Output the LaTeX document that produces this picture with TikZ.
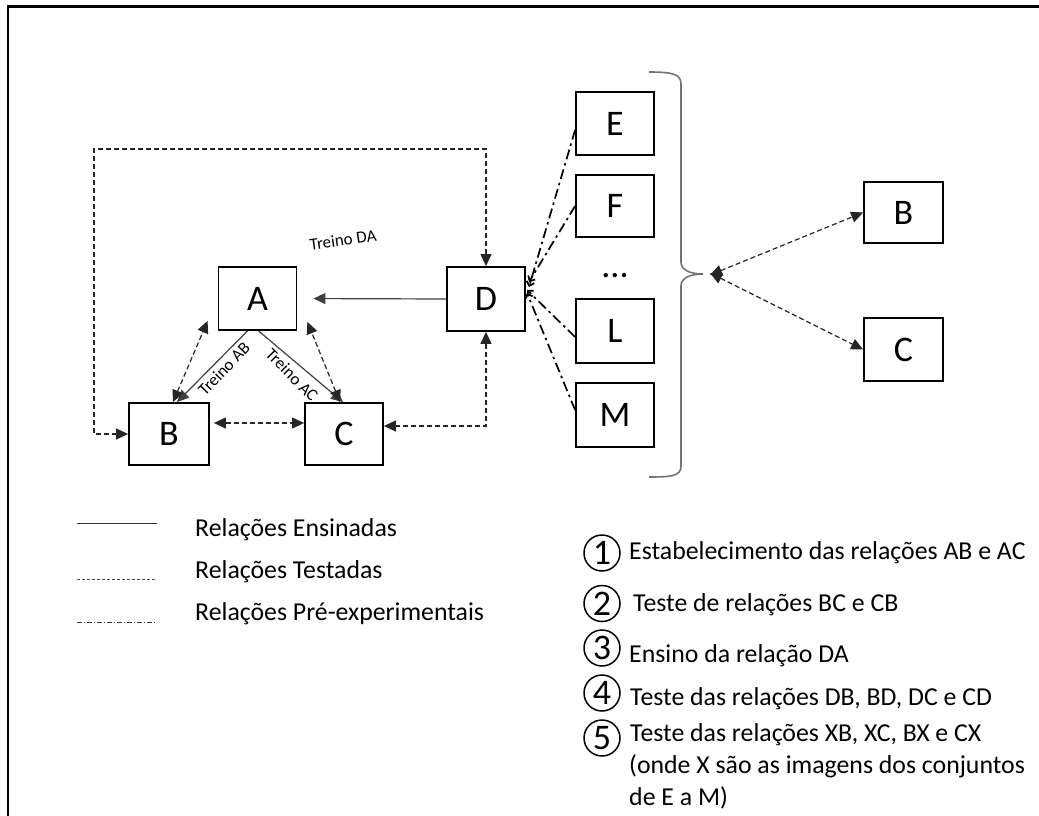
\documentclass[tikz,border=0pt]{standalone}
\usepackage{fontspec}
\setmainfont{Carlito}
\usetikzlibrary{arrows.meta,calc}
\begin{document}
\begin{tikzpicture}[x=1pt,y=-1pt,
  >={Triangle[length=12pt,width=11pt]},
  box/.style={draw=black,line width=1.8pt,minimum width=78pt,minimum height=63pt,
    inner sep=0pt,font=\fontsize{36}{40}\selectfont},
  taught/.style={draw=black!75,line width=1.2pt},
  tested/.style={draw=black!85,line width=1.2pt,dash pattern=on 5pt off 3pt},
  pre/.style={draw=black,line width=1.7pt,dash pattern=on 10pt off 4pt on 2.5pt off 4pt,
    arrows={-Straight Barb[length=4pt,width=8pt]}},
  brace/.style={draw=black!55,line width=1.6pt},
  small/.style={font=\fontsize{17}{20}\selectfont,inner sep=0pt},
  legend/.style={font=\fontsize{25.8}{30}\selectfont,anchor=base west,inner sep=0pt},
  step text/.style={font=\fontsize{25.8}{30}\selectfont,anchor=base west,inner sep=0pt},
  num/.style={circle,draw=black,line width=1.5pt,minimum size=36pt,inner sep=0pt,
    font=\fontsize{36}{36}\selectfont}
]
\useasboundingbox (0,0) rectangle (1039,816);
\fill[white] (0,0) rectangle (1039,816);

% frame
\draw[line width=2.2pt] (8,816) -- (8,6.5) -- (1039,6.5);

% boxes of the triangle and D
\node[box] (A) at (257.5,298.5) {A};
\node[box,minimum width=80pt,minimum height=62pt] (B) at (169,434) {B};
\node[box,minimum height=62pt] (C) at (344,434) {C};
\node[box,minimum height=64pt] (D) at (486,299) {D};

% sets E to M
\node[box] (E) at (615,123.5) {E};
\node[box,minimum height=62pt] (F) at (615,206) {F};
\node[font=\fontsize{36}{40}\selectfont,inner sep=0pt,anchor=base] (dots) at (615,277) {...};
\node[box,minimum height=64pt] (L) at (615,331) {L};
\node[box,minimum height=64pt] (M) at (615,415) {M};

% B and C on the right
\node[box,minimum width=79pt,minimum height=61pt] (B2) at (903.5,212.5) {B};
\node[box,minimum width=79pt] (C2) at (903.5,349.5) {C};

% taught relations
\draw[taught,->,shorten >=16pt] (D.west) -- (A.east);
\draw[taught,->] ([xshift=-10pt]A.south) -- ([xshift=8pt]B.north);
\draw[taught,->] ([xshift=1pt]A.south) -- ([xshift=-1pt]C.north);
\node[small,rotate=46] (tAB) at (224,369) {Treino AB};
\node[small,rotate=-45] (tAC) at (292,375) {Treino AC};
\node[small,rotate=8] (tDA) at (343,240) {Treino DA};

% tested relations
\draw[tested,<->] ([xshift=4pt]B.north) -- ([shift={(-10,-10)}]A.south west);
\draw[tested,<->] ([xshift=-4pt]C.north) -- ([shift={(10,-9)}]A.south east);
\draw[tested,<->] ([shift={(4,-11)}]B.east) -- ([shift={(0,-11)}]C.west);
\draw[tested,<->] (D.south) |- ([yshift=8pt]C.east);
\draw[tested,<->] (D.north) |- (94,149) |- (B.west);

% pre-experimental relations
\coordinate (dE) at (529,287);
\coordinate (dF) at (529,282);
\coordinate (dL) at (527,290);
\coordinate (dM) at (527,293);
\draw[pre] ([yshift=-6.5pt]E.west) -- (dE);
\draw[pre] (F.west) -- (dF);
\draw[pre] ([yshift=-6pt]L.west) -- (dL);
\draw[pre] ([yshift=5pt]M.west) -- (dM);

% brace around the sets
\draw[brace] (649,72) .. controls (672,72) and (681,74) .. (681,84) -- (681,262)
  .. controls (681,270) and (690,274) .. (703,274)
  .. controls (690,274) and (681,278) .. (681,286) -- (681,466)
  .. controls (681,476) and (672,477) .. (649,477);
\coordinate (tip) at (710,274);
\draw[tested,<->] ([yshift=-1pt]tip) -- (B2.west);
\draw[tested,<->] ([yshift=1pt]tip) -- (C2.west);

% legend
\coordinate (l1a) at (77,523); \coordinate (l1b) at (157,523);
\coordinate (l2a) at (77,579); \coordinate (l2b) at (157,579);
\coordinate (l3a) at (77,622); \coordinate (l3b) at (157,622);
\draw[black!80,line width=1pt] (l1a) -- (l1b);
\draw[black!70,line width=0.9pt,dash pattern=on 3pt off 2pt] (l2a) -- (l2b);
\draw[black!80,line width=0.9pt,dash pattern=on 5pt off 2pt on 1pt off 2pt] (l3a) -- (l3b);
\node[legend] (g1) at (195,536) {Relações Ensinadas};
\node[legend] (g2) at (195,578) {Relações Testadas};
\node[legend] (g3) at (195,620) {Relações Pré-experimentais};

% steps
\node[num] (n1) at (602,553) {1};
\node[num] (n2) at (602,603.5) {2};
\node[num] (n3) at (602,648) {3};
\node[num] (n4) at (602,693) {4};
\node[num] (n5) at (602,738) {5};
\node[step text] (s1) at (629,559) {Estabelecimento das relações AB e AC};
\node[step text] (s2) at (633,611) {Teste de relações BC e CB};
\node[step text] (s3) at (629,662) {Ensino da relação DA};
\node[step text] (s4) at (630,705) {Teste das relações DB, BD, DC e CD};
\node[step text] (s5) at (630,741) {Teste das relações XB, XC, BX e CX};
\node[step text] (s6) at (629,773) {(onde X são as imagens dos conjuntos};
\node[step text] (s7) at (629,805) {de E a M)};
\end{tikzpicture}
\end{document}
